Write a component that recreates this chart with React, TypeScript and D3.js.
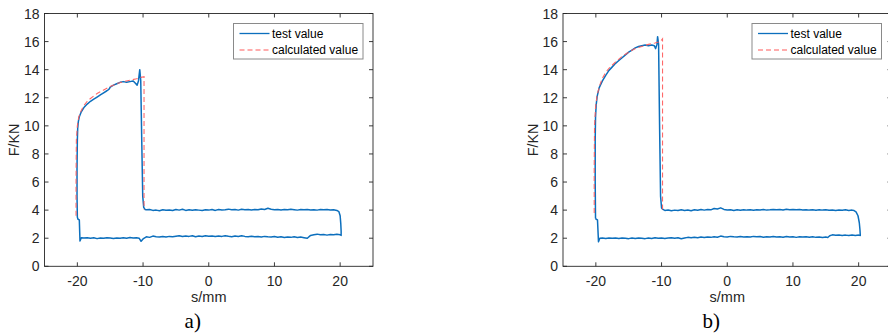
import * as d3 from "d3";

const xTicks = [-20, -10, 0, 10, 20];
const yTicks = [0, 2, 4, 6, 8, 10, 12, 14, 16, 18];
const legendLabels = ["test value", "calculated value"];
const panelLabels = ["a)", "b)"];

// panel a) measured loop
const testRiseA: [number, number][] = [
  [-20.0, 3.5], [-20.05, 5], [-20.05, 7], [-20.0, 9.0], [-19.95, 9.8], [-19.85, 10.3],
  [-19.7, 10.65], [-19.4, 11.0], [-19, 11.3], [-18.5, 11.55], [-18, 11.75], [-17.5, 11.9],
  [-17, 12.05], [-16.5, 12.2], [-16, 12.35], [-15.5, 12.5], [-15.2, 12.6], [-15, 12.75],
  [-14.5, 12.9], [-14, 13.0], [-13.5, 13.1], [-13, 13.15], [-12.5, 13.1], [-12, 13.15],
  [-11.5, 13.2], [-11.2, 13.05], [-10.9, 12.9], [-10.7, 13.2], [-10.5, 14.0], [-10.35, 13.2],
  [-10.2, 9], [-10.05, 5], [-9.9, 4.2], [-9.7, 4.05],
];
const testUpperA: [number, number][] = [
  [-9.5, 4.02], [-9, 4.05], [-8.5, 3.98], [-8, 4.0], [-7.5, 3.96], [-7, 4.03], [-6.5, 3.99],
  [-6, 4.01], [-5.5, 3.97], [-5, 4.04], [-4.5, 4.0], [-4, 4.06], [-3.5, 3.98], [-3, 4.02],
  [-2.5, 3.99], [-2, 4.03], [-1.5, 4.0], [-1, 3.97], [-0.5, 4.02], [0, 4.0], [0.5, 4.04],
  [1, 3.98], [1.5, 4.05], [2, 4.01], [2.5, 4.03], [3, 4.07], [3.5, 4.02], [4, 4.04],
  [4.5, 4.0], [5, 4.06], [5.5, 4.03], [6, 4.05], [6.5, 4.01], [7, 4.04], [7.5, 4.02],
  [8, 4.08], [8.5, 4.05], [9, 4.13], [9.5, 4.06], [10, 4.03], [10.5, 4.05], [11, 4.01],
  [11.5, 4.04], [12, 4.02], [12.5, 4.06], [13, 4.03], [13.5, 4.0], [14, 4.04], [14.5, 4.02],
  [15, 4.05], [15.5, 4.01], [16, 4.03], [16.5, 4.0], [17, 4.04], [17.5, 4.02], [18, 4.05],
  [18.5, 4.01], [19, 4.03], [19.5, 3.98], [19.8, 3.9], [20.0, 3.6], [20.1, 3.0],
  [20.15, 2.5], [20.15, 2.2],
];
const testLowerA: [number, number][] = [
  [20.0, 2.25], [19.5, 2.28], [19, 2.24], [18.5, 2.27], [18, 2.22], [17.5, 2.26], [17, 2.24],
  [16.5, 2.29], [16, 2.25], [15.5, 2.2], [15, 2.0], [14.5, 2.04], [14, 2.08], [13.5, 2.05],
  [13, 2.1], [12.5, 2.06], [12, 2.09], [11.5, 2.05], [11, 2.1], [10.5, 2.07], [10, 2.12],
  [9.5, 2.08], [9, 2.1], [8.5, 2.13], [8, 2.09], [7.5, 2.12], [7, 2.1], [6.5, 2.14],
  [6, 2.11], [5.5, 2.13], [5, 2.17], [4.5, 2.12], [4, 2.15], [3.5, 2.11], [3, 2.14],
  [2.5, 2.18], [2, 2.13], [1.5, 2.15], [1, 2.12], [0.5, 2.16], [0, 2.14], [-0.5, 2.18],
  [-1, 2.12], [-1.5, 2.15], [-2, 2.11], [-2.5, 2.17], [-3, 2.13], [-3.5, 2.16], [-4, 2.12],
  [-4.5, 2.18], [-5, 2.14], [-5.5, 2.1], [-6, 2.13], [-6.5, 2.09], [-7, 2.12], [-7.5, 2.08],
  [-8, 2.11], [-8.5, 2.15], [-9, 2.06], [-9.5, 2.1], [-10, 1.95], [-10.3, 1.78], [-10.6, 2.0],
  [-11, 2.04], [-11.5, 2.01], [-12, 2.05], [-12.5, 2.0], [-13, 2.03], [-13.5, 1.99], [-14, 2.02],
  [-14.5, 1.98], [-15, 2.01], [-15.5, 2.04], [-16, 1.99], [-16.5, 2.02], [-17, 1.97],
  [-17.5, 2.03], [-18, 2.0], [-18.5, 2.04], [-19, 2.01], [-19.4, 2.03], [-19.6, 1.8],
  [-19.7, 3.3], [-19.9, 3.35], [-20.0, 3.5],
];
const calcA: [number, number][] = [
  [-20.2, 3.6], [-20.2, 6], [-20.15, 9], [-20.0, 10.0], [-19.8, 10.6], [-19.4, 11.1],
  [-19, 11.45], [-18.5, 11.75], [-18, 11.95], [-17, 12.3], [-16, 12.55], [-15, 12.8],
  [-14, 13.0], [-13, 13.15], [-12, 13.25], [-11, 13.35], [-10.3, 13.45], [-9.85, 13.5],
  [-9.85, 4.05],
];

// panel b) measured loop
const testRiseB: [number, number][] = [
  [-20.05, 3.4], [-20.1, 6], [-20.1, 9], [-20.05, 10.6], [-19.95, 11.5], [-19.8, 12.1],
  [-19.5, 12.7], [-19.0, 13.2], [-18.5, 13.6], [-18, 13.95], [-17.5, 14.2], [-17, 14.45],
  [-16.5, 14.65], [-16, 14.85], [-15.5, 15.05], [-15, 15.25], [-14.5, 15.4], [-14, 15.55],
  [-13.5, 15.65], [-13, 15.7], [-12.5, 15.75], [-12, 15.7], [-11.5, 15.76], [-11.1, 15.7],
  [-10.9, 15.5], [-10.7, 15.8], [-10.6, 16.35], [-10.45, 15.8], [-10.3, 10], [-10.15, 5],
  [-10.0, 4.15], [-9.8, 4.05],
];
const testUpperB: [number, number][] = [
  [-9.5, 3.98], [-9, 4.01], [-8.5, 3.96], [-8, 4.0], [-7.5, 3.97], [-7, 4.02], [-6.5, 3.98],
  [-6, 4.01], [-5.5, 3.96], [-5, 4.03], [-4.5, 3.99], [-4, 4.04], [-3.5, 4.0], [-3, 4.05],
  [-2.5, 4.02], [-2, 4.12], [-1.5, 4.08], [-1, 4.16], [-0.5, 4.05], [0, 4.01], [0.5, 4.03],
  [1, 3.98], [1.5, 4.02], [2, 3.99], [2.5, 4.03], [3, 4.0], [3.5, 4.02], [4, 3.99],
  [4.5, 4.03], [5, 4.01], [5.5, 4.04], [6, 4.0], [6.5, 4.02], [7, 4.05], [7.5, 4.02],
  [8, 4.04], [8.5, 4.01], [9, 4.06], [9.5, 4.03], [10, 4.05], [10.5, 4.02], [11, 4.04],
  [11.5, 4.01], [12, 4.03], [12.5, 4.0], [13, 4.02], [13.5, 3.99], [14, 4.03], [14.5, 4.0],
  [15, 4.02], [15.5, 3.99], [16, 4.01], [16.5, 3.98], [17, 4.01], [17.5, 3.99], [18, 4.02],
  [18.5, 3.98], [19, 4.0], [19.3, 3.97], [19.6, 3.88], [19.9, 3.6], [20.1, 3.1],
  [20.2, 2.6], [20.25, 2.2],
];
const testLowerB: [number, number][] = [
  [20.0, 2.22], [19.5, 2.2], [19, 2.23], [18.5, 2.19], [18, 2.22], [17.5, 2.2], [17, 2.23],
  [16.5, 2.21], [16, 2.24], [15.6, 2.18], [15.3, 2.05], [15, 2.08], [14.5, 2.05], [14, 2.09],
  [13.5, 2.06], [13, 2.1], [12.5, 2.07], [12, 2.11], [11.5, 2.08], [11, 2.1], [10.5, 2.06],
  [10, 2.1], [9.5, 2.08], [9, 2.12], [8.5, 2.07], [8, 2.1], [7.5, 2.08], [7, 2.12],
  [6.5, 2.09], [6, 2.11], [5.5, 2.07], [5, 2.12], [4.5, 2.1], [4, 2.13], [3.5, 2.08],
  [3, 2.11], [2.5, 2.09], [2, 2.12], [1.5, 2.08], [1, 2.1], [0.5, 2.13], [0, 2.08],
  [-0.5, 2.1], [-1, 2.15], [-1.5, 2.07], [-2, 2.1], [-2.5, 2.06], [-3, 2.09], [-3.5, 2.05],
  [-4, 2.08], [-4.5, 2.04], [-5, 2.07], [-5.5, 2.03], [-6, 2.06], [-6.5, 2.01], [-7, 1.96],
  [-7.5, 2.03], [-8, 2.0], [-8.5, 2.04], [-9, 2.01], [-9.5, 1.98], [-10, 2.02], [-10.5, 1.99],
  [-11, 2.03], [-11.5, 1.98], [-12, 2.01], [-12.5, 1.97], [-13, 2.0], [-13.5, 2.02],
  [-14, 1.98], [-14.5, 2.01], [-15, 1.97], [-15.5, 2.0], [-16, 2.02], [-16.5, 1.98],
  [-17, 2.01], [-17.5, 1.99], [-18, 2.02], [-18.5, 1.98], [-19, 2.01], [-19.4, 2.0],
  [-19.6, 1.75], [-19.75, 3.3], [-19.95, 3.35], [-20.05, 3.4],
];
const calcB: [number, number][] = [
  [-20.25, 3.8], [-20.25, 7], [-20.2, 10], [-20.05, 11.3], [-19.8, 12.2], [-19.4, 12.9],
  [-19, 13.4], [-18.5, 13.8], [-18, 14.1], [-17, 14.55], [-16, 14.95], [-15, 15.25],
  [-14, 15.5], [-13, 15.65], [-12, 15.8], [-11, 15.9], [-10.2, 16.0], [-9.85, 16.2],
  [-9.85, 4.0],
];

const BLUE = "#0c6fbd";
const RED = "#ff5a5a";
const INK = "#262626";

function Panel({
  dx,
  test,
  calc,
  label,
}: {
  dx: number;
  test: [number, number][];
  calc: [number, number][];
  label: string;
}) {
  const left = 44.5;
  const right = 373;
  const top = 13.5;
  const bottom = 266.3;
  const x = d3.scaleLinear().domain([-25, 25]).range([left, right]);
  const y = d3.scaleLinear().domain([0, 18]).range([bottom, top]);
  const line = d3
    .line<[number, number]>()
    .x((d) => x(d[0]))
    .y((d) => y(d[1]));
  const tl = 4;
  const lx = 233.5;
  const ly = 23.5;

  return (
    <g transform={`translate(${dx},0)`}>
      <rect x={left} y={top} width={right - left} height={bottom - top} fill="#fff" />
      <g fill="none">
        <path d={line(test) ?? ""} stroke={BLUE} strokeWidth={1.5} strokeLinejoin="round" />
        <path
          d={line(calc) ?? ""}
          stroke={RED}
          strokeWidth={1.1}
          strokeDasharray="5,3"
          strokeOpacity={0.9}
        />
      </g>
      {/* axes box and ticks */}
      <rect
        x={left}
        y={top}
        width={right - left}
        height={bottom - top}
        fill="none"
        stroke={INK}
        strokeWidth={0.9}
      />
      {xTicks.map((t) => (
        <g key={"x" + t}>
          <line x1={x(t)} x2={x(t)} y1={bottom} y2={bottom - tl} stroke={INK} strokeWidth={0.9} />
          <line x1={x(t)} x2={x(t)} y1={top} y2={top + tl} stroke={INK} strokeWidth={0.9} />
          <text
            x={x(t)}
            y={bottom + 20}
            textAnchor="middle"
            fontSize={14}
            fill={INK}
            fontFamily="Liberation Sans, Arial, sans-serif"
          >
            {t}
          </text>
        </g>
      ))}
      {yTicks.map((t) => (
        <g key={"y" + t}>
          <line x1={left} x2={left + tl} y1={y(t)} y2={y(t)} stroke={INK} strokeWidth={0.9} />
          <line x1={right} x2={right - tl} y1={y(t)} y2={y(t)} stroke={INK} strokeWidth={0.9} />
          <text
            x={left - 5}
            y={y(t) + 5}
            textAnchor="end"
            fontSize={14}
            fill={INK}
            fontFamily="Liberation Sans, Arial, sans-serif"
          >
            {t}
          </text>
        </g>
      ))}
      <text
        x={(left + right) / 2}
        y={302}
        textAnchor="middle"
        fontSize={14.5}
        fill={INK}
        fontFamily="Liberation Sans, Arial, sans-serif"
      >
        s/mm
      </text>
      <text
        transform={`translate(19.3,${(top + bottom) / 2}) rotate(-90)`}
        textAnchor="middle"
        fontSize={14.3}
        fill={INK}
        fontFamily="Liberation Sans, Arial, sans-serif"
      >
        F/KN
      </text>
      <text
        x={(left + right) / 2 - 16}
        y={328}
        textAnchor="middle"
        fontSize={21}
        fill="#000"
        fontFamily="Liberation Serif, Times New Roman, serif"
      >
        {label}
      </text>
      {/* legend */}
      <rect x={lx} y={ly} width={129.5} height={35.5} fill="#fff" stroke="#8a8a8a" strokeWidth={1} />
      <line x1={lx + 6} x2={lx + 36} y1={ly + 10} y2={ly + 10} stroke={BLUE} strokeWidth={1.3} />
      <line
        x1={lx + 6}
        x2={lx + 36}
        y1={ly + 26.5}
        y2={ly + 26.5}
        stroke={RED}
        strokeWidth={1.1}
        strokeDasharray="5,3"
      />
      {legendLabels.map((s, i) => (
        <text
          key={s}
          x={lx + 38.5}
          y={ly + 14 + i * 16.5}
          fontSize={12}
          fill="#000"
          fontFamily="Liberation Sans, Arial, sans-serif"
        >
          {s}
        </text>
      ))}
    </g>
  );
}

export default function App() {
  return (
    <svg
      width={888}
      height={334}
      style={{ position: "fixed", left: 0, top: 0, background: "#fff" }}
    >
      <rect width={888} height={334} fill="#fff" />
      <Panel dx={0} test={[...testRiseA, ...testUpperA, ...testLowerA]} calc={calcA} label={panelLabels[0]} />
      <Panel dx={518.5} test={[...testRiseB, ...testUpperB, ...testLowerB]} calc={calcB} label={panelLabels[1]} />
    </svg>
  );
}
